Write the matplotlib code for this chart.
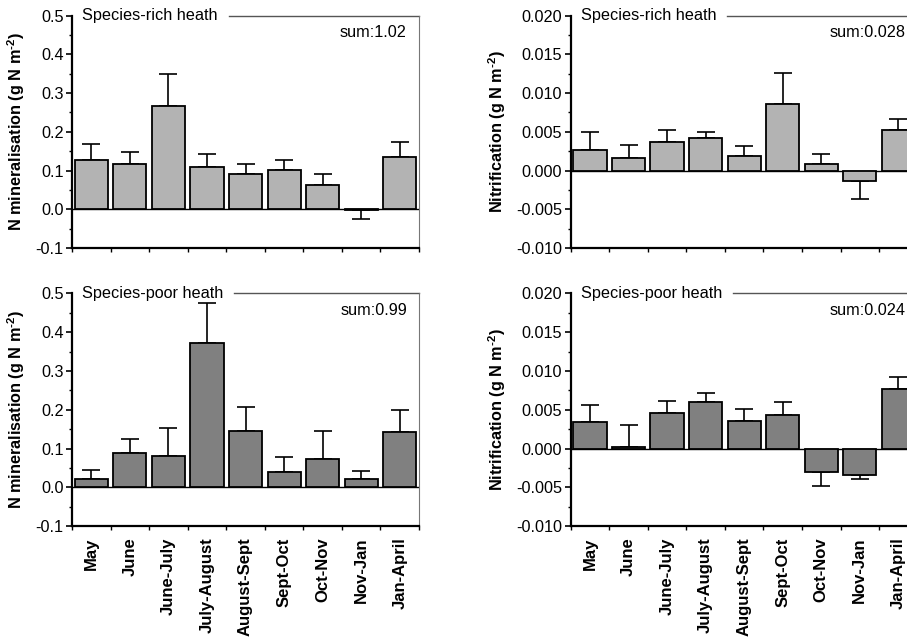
import numpy as np
import matplotlib
matplotlib.use("Agg")
import matplotlib.pyplot as plt
from matplotlib.ticker import MultipleLocator, FormatStrFormatter

plt.rcParams['font.family'] = ['Liberation Sans', 'DejaVu Sans']
plt.rcParams['axes.unicode_minus'] = False
plt.rcParams['mathtext.fontset'] = 'custom'
plt.rcParams['mathtext.rm'] = 'Liberation Sans:bold'
plt.rcParams['mathtext.bf'] = 'Liberation Sans:bold'

# periods (x categories)
periods = ['May', 'June', 'June-July', 'July-August', 'August-Sept',
           'Sept-Oct', 'Oct-Nov', 'Nov-Jan', 'Jan-April']

# N mineralisation (g N m-2), mean and SE
rich_min = [0.127, 0.117, 0.268, 0.109, 0.092, 0.102, 0.063, -0.003, 0.134]
rich_min_se = [0.042, 0.031, 0.082, 0.033, 0.025, 0.025, 0.029, 0.022, 0.039]
poor_min = [0.0215, 0.0886, 0.0818, 0.373, 0.145, 0.0396, 0.074, 0.0215, 0.142]
poor_min_se = [0.024, 0.036, 0.071, 0.103, 0.061, 0.038, 0.071, 0.021, 0.057]

# Nitrification (g N m-2), mean and SE
rich_nit = [0.00268, 0.00157, 0.0037, 0.00421, 0.00191, 0.00864, 0.00085, -0.0014, 0.00523]
rich_nit_se = [0.0023, 0.00175, 0.00158, 0.00077, 0.00128, 0.004, 0.00128, 0.0023, 0.00145]
poor_nit = [0.00336, 0.00017, 0.00455, 0.00596, 0.00353, 0.00438, -0.00302, -0.00336, 0.0077]
poor_nit_se = [0.00226, 0.00281, 0.00158, 0.00123, 0.00153, 0.00158, 0.00175, 0.00051, 0.00158]

sums = ['sum:1.02', 'sum:0.028', 'sum:0.99', 'sum:0.024']
heath = ['Species-rich heath', 'Species-poor heath']

LIGHT = '#b3b3b3'
DARK = '#808080'
FS = 11.7

fig = plt.figure(figsize=(9.07, 6.40), dpi=100)

panels = [
    # (position, values, se, colour, ylim, major, minor, fmt, ylabel, sum, heath, xlabels)
    ([0.0794, 0.6125, 0.3826, 0.363], rich_min, rich_min_se, LIGHT, (-0.1, 0.5), 0.1, 0.05, '%.1f',
     r'N mineralisation (g N m$^{\text{-2}}$)', sums[0], heath[0], False),
    ([0.6292, 0.6125, 0.3826, 0.363], rich_nit, rich_nit_se, LIGHT, (-0.01, 0.02), 0.005, 0.0025, '%.3f',
     r'Nitrification (g N m$^{\text{-2}}$)', sums[1], heath[0], False),
    ([0.0794, 0.178, 0.3826, 0.3636], poor_min, poor_min_se, DARK, (-0.1, 0.5), 0.1, 0.05, '%.1f',
     r'N mineralisation (g N m$^{\text{-2}}$)', sums[2], heath[1], True),
    ([0.6292, 0.178, 0.3826, 0.3636], poor_nit, poor_nit_se, DARK, (-0.01, 0.02), 0.005, 0.0025, '%.3f',
     r'Nitrification (g N m$^{\text{-2}}$)', sums[3], heath[1], True),
]

x = np.arange(len(periods))
heads = []

for pos, vals, se, col, ylim, major, minor, fmt, ylab, sumtxt, htxt, showx in panels:
    ax = fig.add_axes(pos)
    vals = np.array(vals)
    se = np.array(se)
    lower = np.where(vals < 0, se, 0)
    upper = np.where(vals >= 0, se, 0)

    ax.axhline(0, color='black', lw=1.0, zorder=1)
    ax.errorbar(x, vals, yerr=[lower, upper], fmt='none', ecolor='black',
                elinewidth=1.2, capsize=6.7, capthick=1.2, zorder=2)
    ax.bar(x, vals, width=0.86, color=col, edgecolor='black', linewidth=1.3, zorder=3)

    ax.set_xlim(-0.5, len(periods) - 0.5)
    ax.set_ylim(*ylim)
    ax.yaxis.set_major_locator(MultipleLocator(major))
    ax.yaxis.set_minor_locator(MultipleLocator(minor))
    ax.yaxis.set_major_formatter(FormatStrFormatter(fmt))
    ax.tick_params(axis='y', which='major', length=4, width=1.2, pad=2, labelsize=FS)
    ax.tick_params(axis='y', which='minor', length=2.5, width=1.0)

    ax.set_xticks(x)
    ax.set_xticks(np.arange(len(periods) + 1) - 0.5, minor=True)
    ax.tick_params(axis='x', which='major', length=0, pad=8)
    ax.tick_params(axis='x', which='minor', length=3, width=1.0)
    if showx:
        ax.set_xticklabels(periods, rotation=90, fontsize=12, fontweight='bold')
    else:
        ax.set_xticklabels([])

    for s in ['left', 'bottom']:
        ax.spines[s].set_linewidth(1.6)
    ax.spines['right'].set_linewidth(0.8)
    ax.spines['right'].set_color('#777777')
    ax.spines['top'].set_visible(False)

    ax.set_ylabel(ylab, fontsize=11.7, fontweight='bold', labelpad=6)
    ax.text(0.965, 0.926, sumtxt, transform=ax.transAxes, ha='right', va='center', fontsize=FS)
    t = ax.text(0.029, 1.0, htxt, transform=ax.transAxes, ha='left', va='center', fontsize=FS)
    heads.append((ax, t))

# top line only right of the heath name
fig.canvas.draw()
for ax, t in heads:
    bb = t.get_window_extent()
    x0 = ax.transAxes.inverted().transform((bb.x1 + 11, bb.y0))[0]
    ax.plot([x0, 1], [1, 1], transform=ax.transAxes, color='#555555', lw=1.0, clip_on=False)

fig.savefig('out.png', dpi=100)
